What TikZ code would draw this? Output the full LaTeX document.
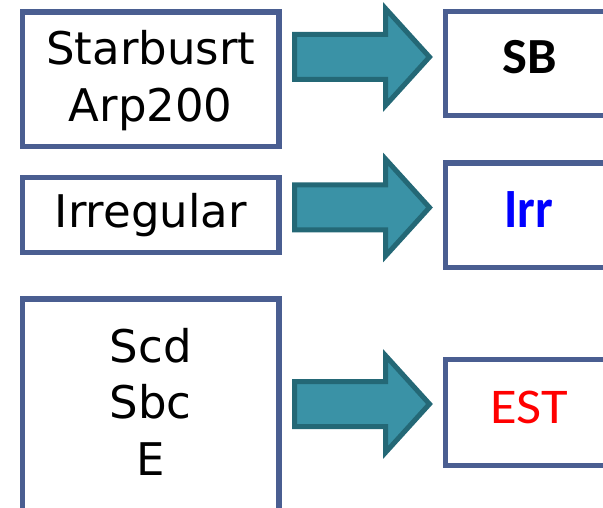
\documentclass[tikz,border=0pt]{standalone}
\usepackage{fontspec}
\newfontfamily\lfont{DejaVu Sans}
\newfontfamily\sbfont[FakeStretch=1.04]{Carlito}
\newfontfamily\irrfont[FakeStretch=0.9]{Carlito}
\newfontfamily\estfont[FakeStretch=1.09]{Carlito}
\definecolor{boxblue}{RGB}{74,94,145}
\definecolor{arrfill}{RGB}{58,146,166}
\definecolor{arrline}{RGB}{36,104,118}
\definecolor{irrblue}{RGB}{0,0,255}
\definecolor{estred}{RGB}{255,0,0}
\tikzset{
  box/.style={draw=boxblue, line width=5.2pt, fill=white, rectangle, inner sep=0pt},
  lbox/.style={box, minimum width=256.5pt},
  rbox/.style={box, minimum width=166.5pt},
  ltext/.style={anchor=base, inner sep=0pt, font=\lfont\fontsize{45}{54}\selectfont},
  blockarrow/.style={draw=arrline, fill=arrfill, line width=5pt, line join=miter},
  pics/blockarr/.style={code={
    \draw[blockarrow] (0,-22.5) -- (91,-22.5) -- (91,-48.5) -- (135,0)
      -- (91,48.5) -- (91,22.5) -- (0,22.5) -- cycle;}}
}
\begin{document}
\begin{tikzpicture}[x=1pt,y=-1pt]
\useasboundingbox (0,0) rectangle (603,508);
\clip (0,0) rectangle (603,508);
% left boxes
\node[lbox, minimum height=134.5pt] (b1) at (150.75,79.25) {};
\node[lbox, minimum height=75pt] (b2) at (150.75,215) {};
\node[lbox, minimum height=213pt] (b3) at (150.75,405.5) {};
% right boxes
\node[rbox, minimum height=104pt] (r1) at (528.75,63.5) {};
\node[rbox, minimum height=104.5pt] (r2) at (528.75,215.25) {};
\node[rbox, minimum height=106pt] (r3) at (528.75,412.5) {};
% left texts
\node[ltext] (t1a) at (150.75,65) {Starbusrt};
\node[ltext] (t1b) at (150.75,122) {Arp200};
\node[ltext] (t2) at (150.75,228) {Irregular};
\node[ltext] (t3a) at (150.75,362) {Scd};
\node[ltext] (t3b) at (150.75,418) {Sbc};
\node[ltext] (t3c) at (150.75,475) {E};
% right texts
\node[anchor=base, inner sep=0pt, font=\sbfont\bfseries\fontsize{50.6}{60}\selectfont] (s1) at (530,74) {SB};
\node[anchor=base, inner sep=0pt, text=irrblue, font=\irrfont\bfseries\fontsize{55.4}{66}\selectfont] (s2) at (529,227) {Irr};
\node[anchor=base, inner sep=0pt, text=estred, font=\estfont\fontsize{50}{60}\selectfont] (s3) at (529,423) {EST};
% block arrows
\pic at (294.5,57) {blockarr};
\pic at (294.5,207.5) {blockarr};
\pic at (294.5,404) {blockarr};
\end{tikzpicture}
\end{document}
